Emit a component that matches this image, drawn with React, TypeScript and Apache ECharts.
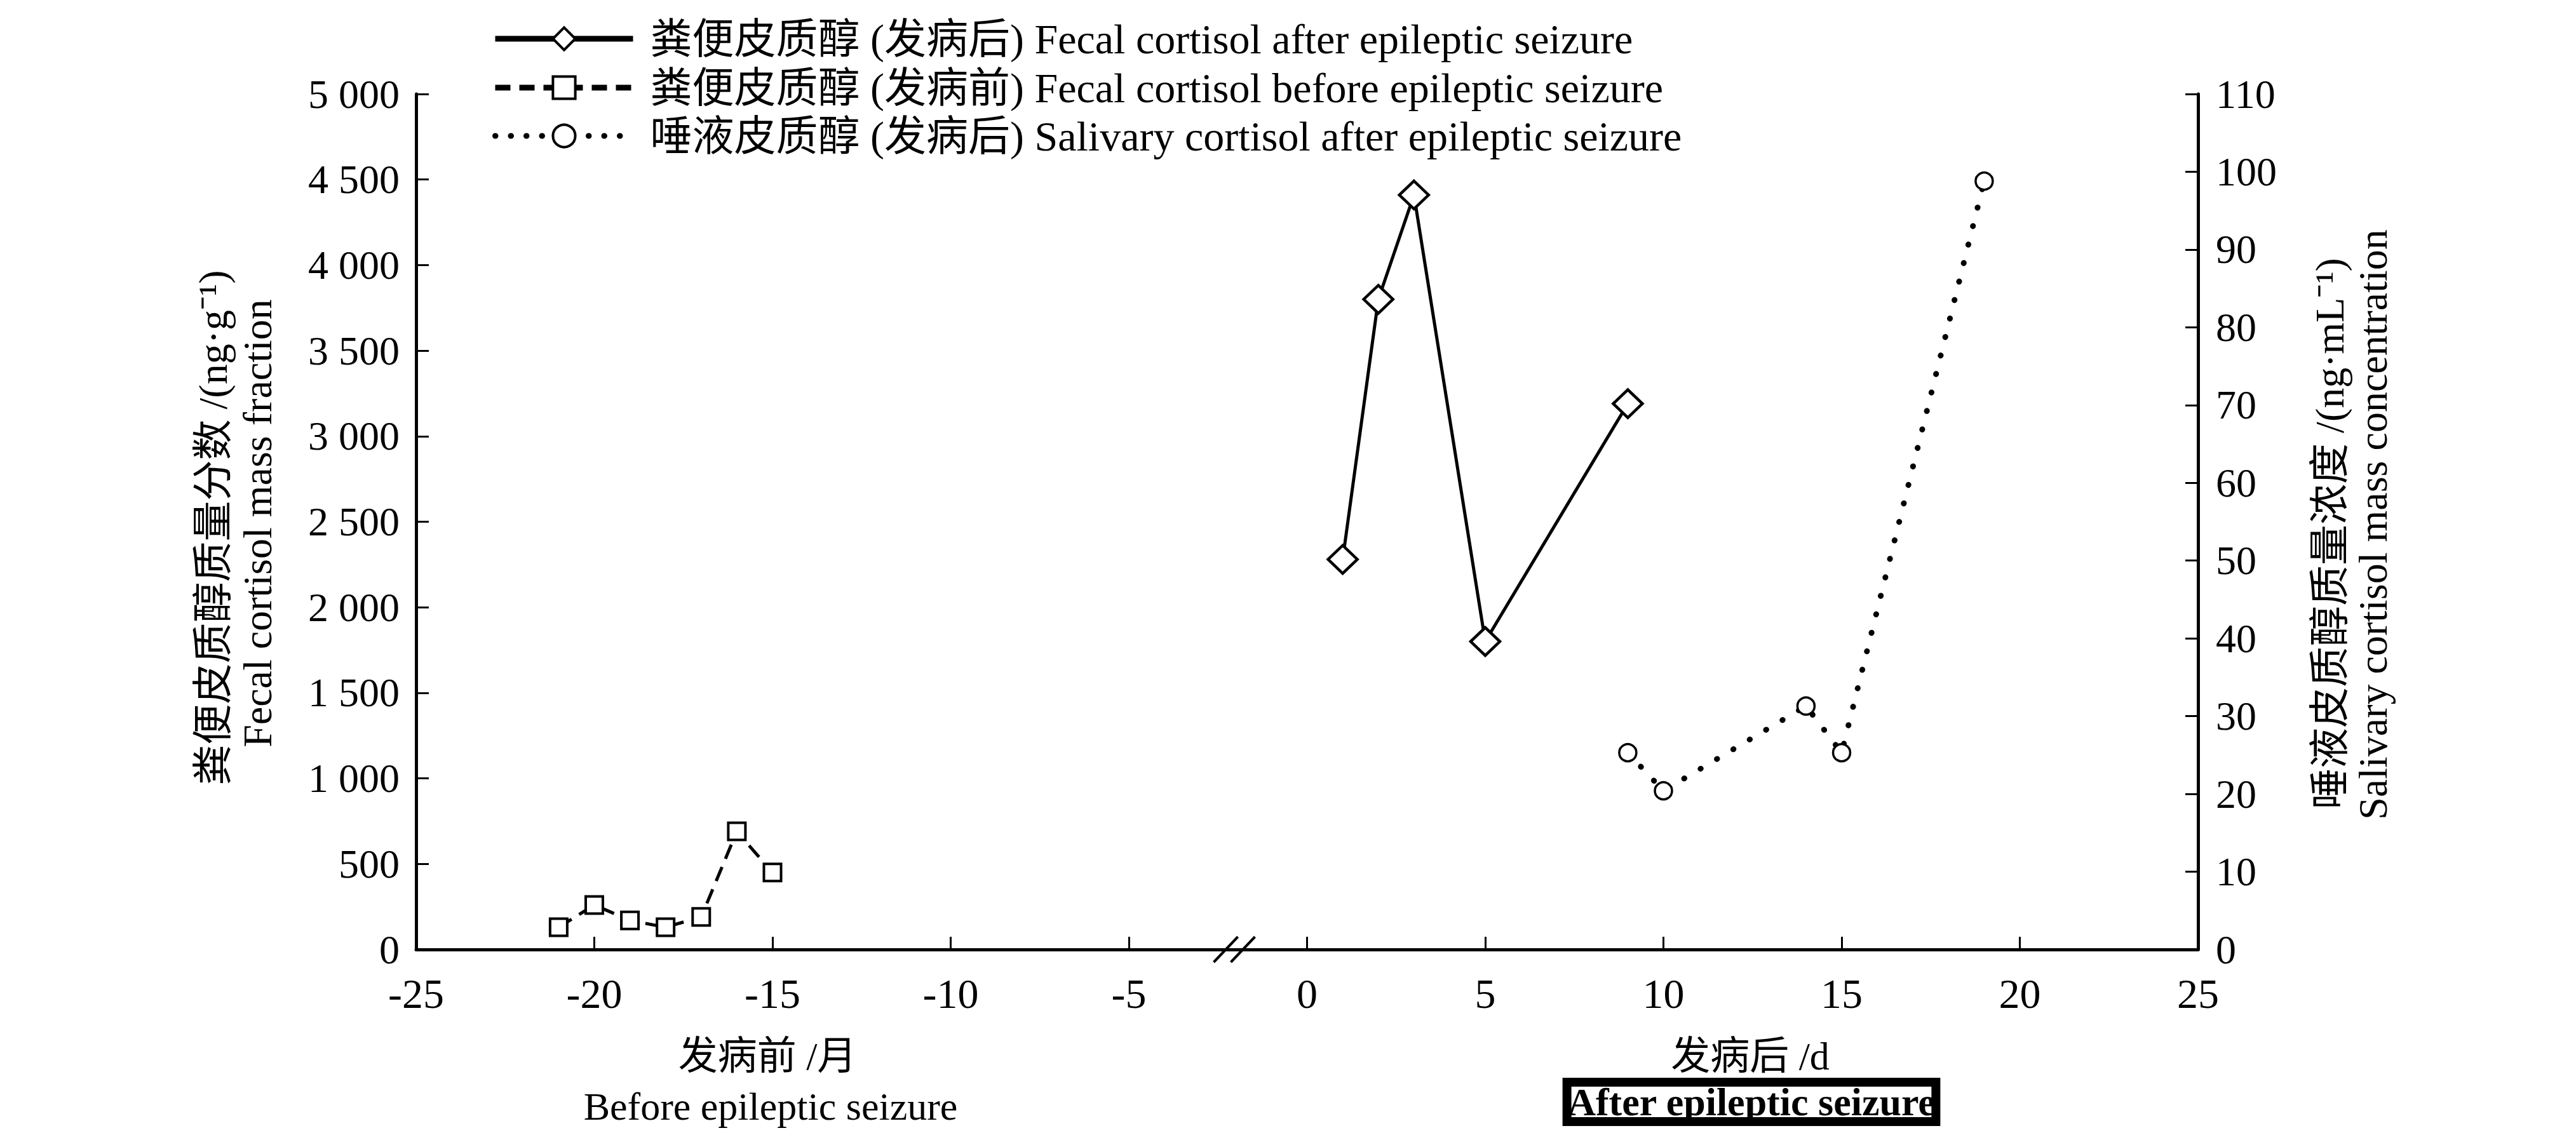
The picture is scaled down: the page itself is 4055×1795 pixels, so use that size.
import { useEffect, useRef } from 'react';
import * as echarts from 'echarts';

// ---- data ----
const xTickMin = -25;
const xTickMax = 25;
const xTickStep = 5;

const beforeMonths = [-21, -20, -19, -18, -17, -16, -15];
const fecalBefore = [130, 260, 170, 130, 190, 690, 450];

const afterDaysFecal = [1, 2, 3, 5, 9];
const fecalAfter = [2280, 3800, 4410, 1800, 3190];

const afterDaysSaliva = [9, 10, 14, 15, 19];
const salivaAfter = [25.3, 20.4, 31.3, 25.3, 98.8];

const leftAxisRange = [0, 5000, 500];
const rightAxisRange = [0, 110, 10];

const axisBreakAt = [-2.28, -1.8];

const seriesNames = [
  '粪便皮质醇 (发病后) Fecal cortisol after epileptic seizure',
  '粪便皮质醇 (发病前) Fecal cortisol before epileptic seizure',
  '唾液皮质醇 (发病后) Salivary cortisol after epileptic seizure',
];

const leftName = ['粪便皮质醇质量分数 /(ng·g⁻¹)', 'Fecal cortisol mass fraction'];
const rightName = ['唾液皮质醇质量浓度 /(ng·mL⁻¹)', 'Salivary cortisol mass concentration'];
const xNamesBefore = ['发病前 /月', 'Before epileptic seizure'];
const xNamesAfter = ['发病后 /d', 'After epileptic seizure'];

const SERIF = '"Liberation Serif", "Times New Roman", "Noto Sans CJK SC", serif';

const pairs = (xs: number[], ys: number[]) => xs.map((x, i) => [x, ys[i]]);

const fmtThousands = (v: number) =>
  v >= 1000 ? `${Math.floor(v / 1000)} ${String(v % 1000).padStart(3, '0')}` : String(v);

const lineTypes: any[] = ['solid', [24, 14], [0.5, 24]];
const lineWidths = [5, 5, 9];
const legendLineWidths = [9, 9, 9];

export default function App() {
  const ref = useRef<HTMLDivElement>(null);

  useEffect(() => {
    if (!ref.current) return;
    const chart = echarts.init(ref.current, undefined, { renderer: 'svg' });

    const axisCommon = {
      axisLine: { show: true, onZero: false, lineStyle: { color: '#000', width: 5 } },
      axisTick: { show: true, inside: true, length: 20, lineStyle: { color: '#000', width: 3 } },
      splitLine: { show: false },
    };

    const legendCommon = (i: number, top: number) => ({
      data: [seriesNames[i]],
      left: 775,
      top,
      padding: 0,
      selectedMode: false,
      itemWidth: 217,
      itemHeight: 44,
      lineStyle: {
        color: '#000',
        width: legendLineWidths[i],
        type: lineTypes[i],
        cap: i === 2 ? 'round' : 'butt',
      },
      itemStyle: { color: '#fff', borderColor: '#000', borderWidth: 4 },
      textStyle: {
        fontFamily: SERIF,
        fontSize: 66,
        color: '#000',
        lineHeight: 72,
        padding: [0, 0, 0, 22],
      },
    });

    const textEl = (text: string, x: number, y: number, rot = 0, extra: any = {}) => ({
      type: 'text',
      x,
      y,
      rotation: rot,
      style: {
        text,
        fontFamily: SERIF,
        fontSize: 62,
        fill: '#000',
        align: 'center',
        verticalAlign: 'middle',
        ...extra,
      },
    });

    chart.setOption({
      animation: false,
      backgroundColor: '#fff',
      grid: { left: 655, right: 595, top: 148, bottom: 300, containLabel: false },
      legend: [legendCommon(0, 25), legendCommon(1, 102), legendCommon(2, 178)],
      xAxis: {
        type: 'value',
        min: xTickMin,
        max: xTickMax,
        interval: xTickStep,
        ...axisCommon,
        axisLabel: {
          show: true,
          margin: 36,
          fontFamily: SERIF,
          fontSize: 66,
          color: '#000',
          showMinLabel: true,
          showMaxLabel: true,
        },
      },
      yAxis: [
        {
          type: 'value',
          position: 'left',
          min: leftAxisRange[0],
          max: leftAxisRange[1],
          interval: leftAxisRange[2],
          ...axisCommon,
          axisLabel: {
            margin: 26,
            fontFamily: SERIF,
            fontSize: 64,
            color: '#000',
            formatter: (v: number) => fmtThousands(v),
          },
        },
        {
          type: 'value',
          position: 'right',
          min: rightAxisRange[0],
          max: rightAxisRange[1],
          interval: rightAxisRange[2],
          ...axisCommon,
          axisLabel: {
            margin: 28,
            fontFamily: SERIF,
            fontSize: 64,
            color: '#000',
          },
        },
      ],
      series: [
        {
          name: seriesNames[0],
          type: 'line',
          data: pairs(afterDaysFecal, fecalAfter),
          symbol: 'diamond',
          symbolSize: [46, 44],
          itemStyle: { color: '#fff', borderColor: '#000', borderWidth: 4.5 },
          lineStyle: { color: '#000', width: lineWidths[0], type: lineTypes[0] },
          z: 3,
        },
        {
          name: seriesNames[1],
          type: 'line',
          data: pairs(beforeMonths, fecalBefore),
          symbol: 'rect',
          symbolSize: 27,
          itemStyle: { color: '#fff', borderColor: '#000', borderWidth: 4 },
          lineStyle: { color: '#000', width: lineWidths[1], type: lineTypes[1] },
          z: 3,
        },
        {
          name: seriesNames[2],
          type: 'line',
          yAxisIndex: 1,
          data: pairs(afterDaysSaliva, salivaAfter),
          symbol: 'circle',
          symbolSize: 27,
          itemStyle: { color: '#fff', borderColor: '#000', borderWidth: 3.5 },
          lineStyle: { color: '#000', width: lineWidths[2], type: [0.5, 29.5], cap: 'round' },
          z: 3,
        },
      ],
      graphic: [
        textEl(leftName[0], 335, 831, Math.PI / 2, { fontSize: 64 }),
        textEl(leftName[1], 405, 824, Math.PI / 2, { fontSize: 64 }),
        textEl(rightName[0], 3667, 840, Math.PI / 2, { fontSize: 64 }),
        textEl(rightName[1], 3735, 826, Math.PI / 2, { fontSize: 64 }),
        textEl(xNamesBefore[0], 1208, 1663),
        textEl(xNamesBefore[1], 1213, 1742),
        textEl(xNamesAfter[0], 2755, 1663),
        textEl(xNamesAfter[1], 2757, 1735, 0, {
          textBorderColor: '#000',
          textBorderWidth: 14,
          fontWeight: 'bold',
        }),
      ],
    });

    const breakLines = axisBreakAt.map((v, i) => {
      const p = chart.convertToPixel({ gridIndex: 0 }, [v, 0]) as number[];
      return {
        type: 'line',
        id: 'brk' + i,
        z: 100,
        shape: { x1: p[0] - 19, y1: p[1] + 20, x2: p[0] + 19, y2: p[1] - 20 },
        style: { stroke: '#000', lineWidth: 4 },
      };
    });
    chart.setOption({ graphic: breakLines });

    return () => chart.dispose();
  }, []);

  return (
    <div
      ref={ref}
      style={{ position: 'absolute', left: 0, top: 0, width: 4055, height: 1795, background: '#fff' }}
    />
  );
}
